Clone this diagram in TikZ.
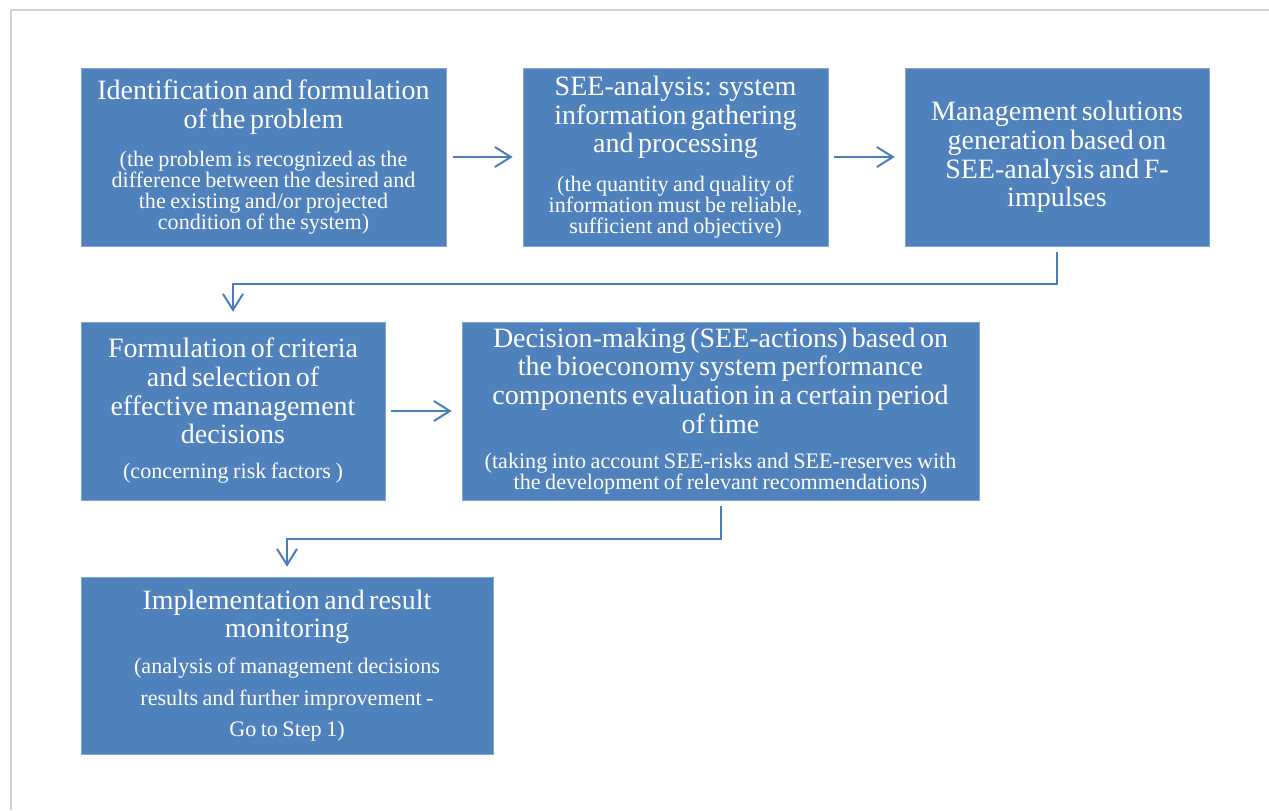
\documentclass[tikz,border=0pt]{standalone}
\usepackage{fontspec}
\setmainfont{Liberation Serif}
\usetikzlibrary{arrows.meta}
\definecolor{boxblue}{HTML}{4F81BD}
\definecolor{linkblue}{HTML}{4A7EBB}
\definecolor{framegray}{HTML}{D4D4D4}
\newcommand{\titlepart}[1]{{\fontsize{21}{21.5}\selectfont #1\par}}
\newcommand{\notepart}[1]{{\fontsize{16.6}{15.75}\selectfont #1\par}}
\newcommand{\notewide}[1]{{\fontsize{16.6}{23.5}\selectfont #1\par}}
\tikzset{
  stagebox/.style={fill=boxblue, draw=boxblue!70!white, line width=0.4pt, text=white, align=center, inner sep=0pt},
  link/.style={draw=linkblue, line width=1.5pt, -{Straight Barb[length=12pt,width=15pt,line width=1.5pt]}},
}
\begin{document}
\begin{tikzpicture}[x=0.75pt,y=-0.75pt]
\useasboundingbox (0,0) rectangle (1269,810);
\draw[framegray, line width=1.5pt] (11,810) -- (11,10) -- (1269,10);

\node[stagebox, text width=273.75pt, minimum height=133.5pt] (b1) at (263.5,157)
 {\titlepart{Identification and formulation\\ of the problem}\vskip 11.5pt
  \notepart{(the problem is recognized as the\\ difference between the desired and\\ the existing and/or projected\\ condition of the system)}};

\node[stagebox, text width=228.75pt, minimum height=133.5pt] (b2) at (675.5,157)
 {\titlepart{SEE-analysis: system\\ information gathering\\ and processing}\vskip 11.5pt
  \notepart{(the quantity and quality of\\ information must be reliable,\\ sufficient and objective)}};

\node[stagebox, text width=228pt, minimum height=133.5pt] (b3) at (1057,157)
 {\titlepart{Management solutions\\ generation based on\\ SEE-analysis and F-\\ impulses}};

\node[stagebox, text width=228pt, minimum height=133.5pt] (b4) at (233,411)
 {\titlepart{Formulation of criteria\\ and selection of\\ effective management\\ decisions}\vskip 10.5pt
  \notepart{(concerning risk factors )}};

\node[stagebox, text width=387.75pt, minimum height=133.5pt] (b5) at (720.5,411)
 {\titlepart{Decision-making (SEE-actions) based on\\ the bioeconomy system performance\\ components evaluation in a certain period\\ of time}\vskip 11pt
  \notepart{(taking into account SEE-risks and SEE-reserves with\\ the development of relevant recommendations)}};

\node[stagebox, text width=309pt, minimum height=132.75pt] (b6) at (287,665.5)
 {\titlepart{Implementation and result\\ monitoring}\vskip 3.5pt
  \notewide{(analysis of management decisions\\ results and further improvement -\\ Go to Step 1)}};

\draw[link, shorten <=5.25pt, shorten >=7.5pt] (b1) -- (b2);
\draw[link, shorten <=4.5pt, shorten >=7.5pt] (b2) -- (b3);
\draw[link, shorten <=4.5pt, shorten >=7.5pt] (b4) -- (b5);
\draw[link, shorten <=4.5pt, shorten >=7.5pt] (b3.south) -- ++(0,38) -| (b4.north);
\draw[link, shorten <=4.5pt, shorten >=7.5pt] (b5.south) -- ++(0,39) -| (b6.north);
\end{tikzpicture}
\end{document}
